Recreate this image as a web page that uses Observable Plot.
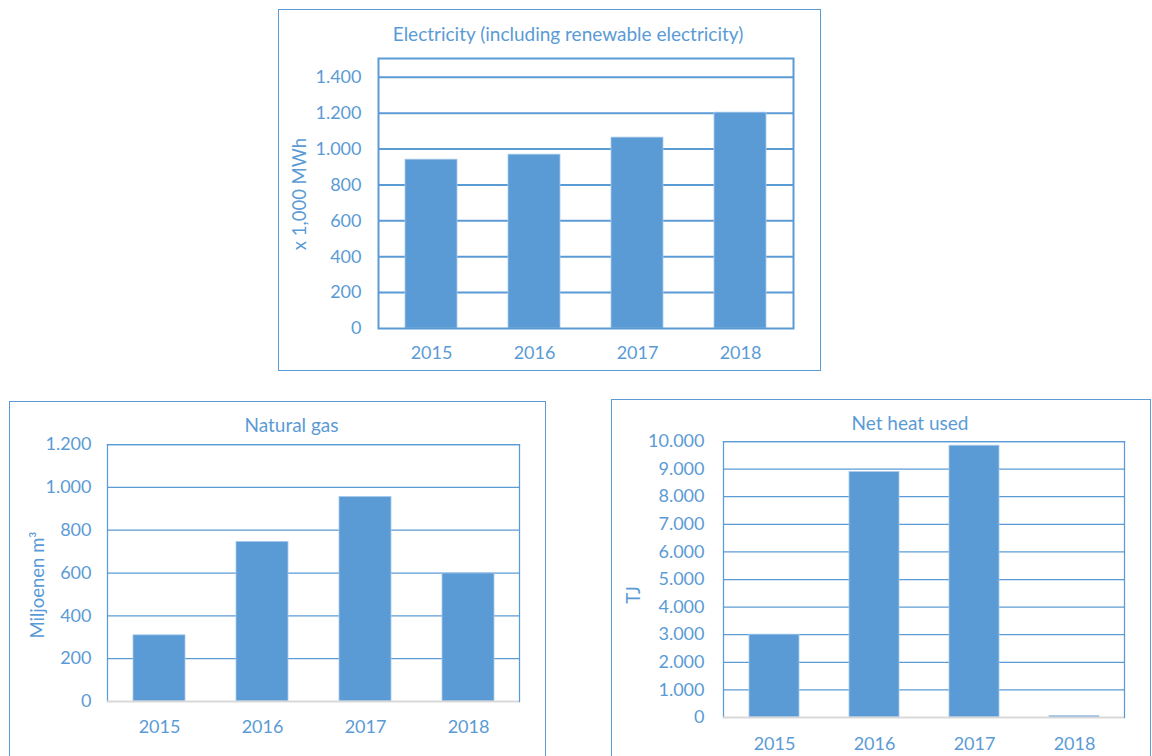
<!DOCTYPE html>
<html><head><meta charset="utf-8">
<script src="https://cdn.jsdelivr.net/npm/d3@7"></script>
<script src="https://cdn.jsdelivr.net/npm/@observablehq/plot@0.6"></script>
<style>
html,body{margin:0;padding:0;background:#fff;width:1152px;height:756px;overflow:hidden;}
body{position:relative;font-family:Lato,sans-serif;color:#5B9BD5;}
.holder{position:absolute;}
.box{position:absolute;border:1px solid #5B9BD5;box-sizing:border-box;background:transparent;}
.title{position:absolute;white-space:nowrap;font-size:19px;line-height:19px;transform:translateX(-50%);}
.ylab{position:absolute;white-space:nowrap;font-size:18.5px;line-height:18.5px;transform:translate(-50%,-50%) rotate(-90deg);}
</style></head><body>
<script>
// ---- data ----
const years = ["2015", "2016", "2017", "2018"];
const electricity = [941, 969, 1064, 1203];   // x 1,000 MWh
const naturalGas = [309, 745, 955, 598];       // Miljoenen m³
const netHeat = [3000, 8893, 9847, 50];        // TJ
const electricityTicks = [0, 200, 400, 600, 800, 1000, 1200, 1400];
const naturalGasTicks = [0, 200, 400, 600, 800, 1000, 1200];
const netHeatTicks = [0, 1000, 2000, 3000, 4000, 5000, 6000, 7000, 8000, 9000, 10000];
const titles = ["Electricity (including renewable electricity)", "Natural gas", "Net heat used"];
const yLabels = ["x 1,000 MWh", "Miljoenen m³", "TJ"];

const BLUE = "#5B9BD5";
const nl = d3.formatLocale({decimal: ",", thousands: ".", grouping: [3], currency: ["€", ""]});
const fmt = nl.format(",d");

const charts = [
  {values: electricity, ticks: electricityTicks, yMax: 1505, title: titles[0], ylab: yLabels[0],
   box: {left: 278, top: 9, w: 543, h: 362}, m: {l: 100, r: 28, t: 49, b: 43},
   gridW: 2, fullFrame: true, yPad: 17, xPad: 18,
   titlePos: {x: 568, y: 23.6}, ylabPos: {x: 298.5, y: 193.6}},
  {values: naturalGas, ticks: naturalGasTicks, yMax: 1200, title: titles[1], ylab: yLabels[1],
   box: {left: 9, top: 401, w: 537, h: 356}, m: {l: 98, r: 27, t: 43, b: 56},
   gridW: 1.25, fullFrame: false, yPad: 16, xPad: 19,
   titlePos: {x: 291.5, y: 414.9}, ylabPos: {x: 36.7, y: 584.5}},
  {values: netHeat, ticks: netHeatTicks, yMax: 10000, title: titles[2], ylab: yLabels[2],
   box: {left: 611, top: 399, w: 540, h: 358}, m: {l: 112, r: 27, t: 42, b: 40},
   gridW: 1.25, fullFrame: false, yPad: 19, xPad: 20,
   titlePos: {x: 910, y: 412.9}, ylabPos: {x: 633, y: 594.6}}
];

for (const c of charts) {
  const data = years.map((y, i) => ({year: y, value: c.values[i]}));
  const marks = [
    Plot.ruleY(c.ticks.filter(t => t > 0), {stroke: BLUE, strokeWidth: c.gridW}),
    Plot.barY(data, {x: "year", y: "value", fill: BLUE, stroke: "#A8C9EB", strokeWidth: 0.8}),
    Plot.axisY({ticks: c.ticks, tickFormat: fmt, tickSize: 0, tickPadding: c.yPad, label: null}),
    Plot.axisX({tickSize: 0, tickPadding: c.xPad, label: null})
  ];
  if (c.fullFrame) {
    marks.push(Plot.frame({stroke: BLUE, strokeWidth: 2}));
  } else {
    marks.push(Plot.frame({anchor: "left", stroke: BLUE, strokeWidth: c.gridW}));
    marks.push(Plot.frame({anchor: "top", stroke: BLUE, strokeWidth: c.gridW}));
    marks.push(Plot.frame({anchor: "right", stroke: BLUE, strokeWidth: c.gridW}));
    marks.push(Plot.ruleY([0], {stroke: "#D9D9D9", strokeWidth: 2}));
  }
  const svg = Plot.plot({
    width: c.box.w, height: c.box.h,
    marginLeft: c.m.l, marginRight: c.m.r, marginTop: c.m.t, marginBottom: c.m.b,
    x: {type: "band", domain: years, paddingInner: 0.5, paddingOuter: 0.25},
    y: {domain: [0, c.yMax]},
    style: {fontFamily: "Lato, sans-serif", fontSize: "18px", color: BLUE, background: "none", overflow: "visible"},
    marks
  });
  const holder = document.createElement("div");
  holder.className = "holder";
  holder.style.left = c.box.left + "px";
  holder.style.top = c.box.top + "px";
  holder.appendChild(svg);
  document.body.appendChild(holder);

  const box = document.createElement("div");
  box.className = "box";
  Object.assign(box.style, {left: c.box.left + "px", top: c.box.top + "px", width: c.box.w + "px", height: c.box.h + "px"});
  document.body.appendChild(box);

  const t = document.createElement("div");
  t.className = "title";
  t.textContent = c.title;
  t.style.left = c.titlePos.x + "px";
  t.style.top = c.titlePos.y + "px";
  document.body.appendChild(t);

  const yl = document.createElement("div");
  yl.className = "ylab";
  yl.textContent = c.ylab;
  yl.style.left = c.ylabPos.x + "px";
  yl.style.top = c.ylabPos.y + "px";
  document.body.appendChild(yl);
}
</script>
</body></html>
